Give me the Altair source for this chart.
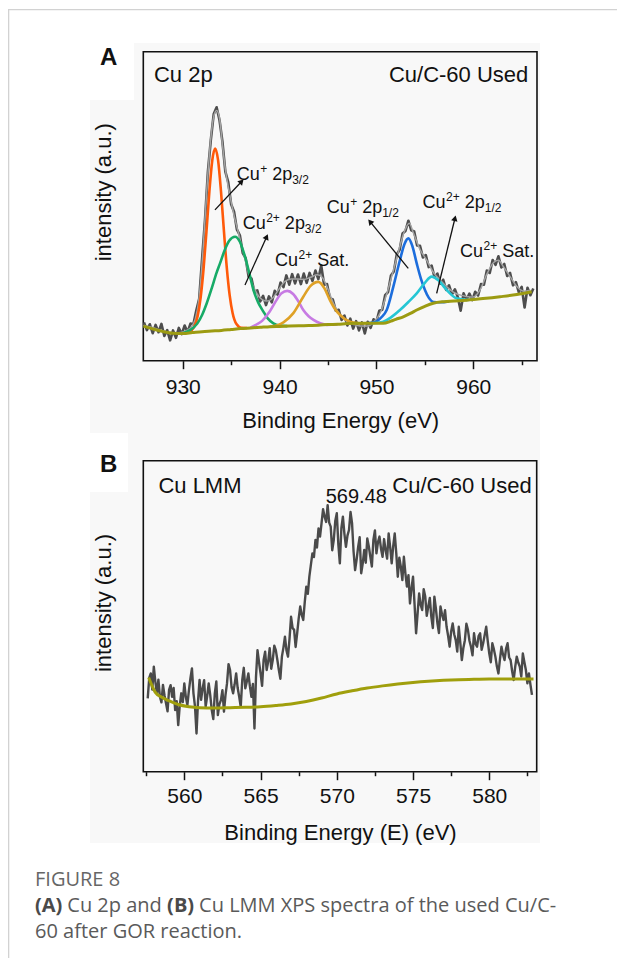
import altair as alt
import pandas as pd

FONT = "Liberation Sans"
CAPFONT = "Open Sans"

# ================= Panel A : Cu 2p =================
A_DOMAIN = [925.93, 966.58]
A_START, A_STEP = 926.0, 0.3          # sampling grid of the measured spectrum
a_spectrum = [
    12.4, 9.9, 11.8, 8.9, 11.6, 9.2, 11.9, 8.0, 9.9, 6.6,
    9.8, 7.4, 10.6, 8.6, 11.4, 9.2, 12.0, 11.8, 16.2, 20.0,
    33.0, 45.5, 61.2, 71.4, 79.8, 82.0, 77.8, 70.9, 61.2, 57.8,
    50.6, 48.2, 42.4, 40.6, 34.8, 33.2, 27.2, 26.6, 22.2, 22.8,
    19.2, 21.0, 18.0, 20.8, 18.9, 22.6, 21.4, 25.3, 23.8, 27.6,
    24.6, 28.0, 25.0, 27.9, 24.8, 28.2, 25.2, 28.4, 25.8, 29.2,
    26.4, 30.8, 24.6, 24.8, 20.2, 19.8, 16.2, 16.5, 13.2, 14.6,
    11.4, 13.6, 10.4, 12.8, 9.8, 12.4, 8.8, 12.6, 10.6, 13.4,
    12.6, 16.2, 16.5, 21.2, 22.2, 27.6, 28.9, 34.4, 35.9, 41.2,
    42.0, 45.3, 42.2, 41.8, 37.3, 37.2, 33.4, 34.2, 30.3, 30.8,
    27.0, 28.2, 24.9, 26.2, 22.9, 24.4, 21.5, 23.1, 20.6, 16.2,
    21.8, 19.7, 21.7, 19.6, 22.3, 21.1, 24.8, 24.6, 29.2, 28.4,
    32.6, 31.0, 33.8, 30.2, 31.3, 27.4, 28.4, 24.4, 25.4, 22.2,
    23.9, 17.2, 23.6, 21.2, 23.4,
]
a_energy = [round(A_START + A_STEP * i, 2) for i in range(len(a_spectrum))]

a_env_E = [925.94, 926.8, 927.6, 928.5, 929.3, 930.1, 930.8, 931.3, 931.7, 932.1,
           932.5, 932.9, 933.2, 933.5, 933.8, 934.1, 934.4, 934.9, 935.3, 935.7,
           936.1, 936.5, 936.9, 937.3, 937.7, 938.2, 938.7, 939.3, 939.9, 940.5,
           941.2, 941.9, 942.5, 943.2, 943.9, 944.4, 944.9, 945.5, 946.2, 946.9,
           947.6, 948.3, 949.0, 949.7, 950.4, 951.1, 951.8, 952.4, 952.9, 953.4,
           953.8, 954.5, 955.2, 955.9, 956.6, 957.3, 957.9, 958.6, 959.3, 960.0,
           960.7, 961.4, 962.1, 962.6, 963.1, 963.8, 964.5, 965.2, 965.9]
a_env_I = [11.5, 10.8, 10.0, 9.2, 9.0, 9.4, 10.6, 13.5, 20.5, 36.0,
           56.0, 72.0, 79.0, 81.0, 78.5, 70.0, 62.0, 53.0, 47.0, 42.0,
           37.0, 32.0, 27.0, 24.0, 21.5, 19.8, 19.3, 20.3, 23.0, 25.5,
           26.4, 26.4, 26.3, 27.0, 27.8, 27.0, 23.9, 19.0, 15.0, 12.8,
           11.8, 11.2, 11.2, 12.4, 15.5, 22.0, 29.8, 36.8, 42.0, 44.5,
           41.5, 36.0, 32.5, 28.5, 26.0, 23.8, 22.3, 21.3, 20.8, 20.6,
           22.9, 28.0, 31.8, 32.5, 30.5, 27.2, 24.0, 22.5, 22.8]

a_base_E = [925.94, 927, 928, 929, 930, 931, 932, 933, 934, 935, 936, 937, 938, 939,
            940, 941, 942, 943, 944, 945, 946, 947, 948, 949, 950, 950.7, 951.5, 952,
            952.77, 953.5, 954.16, 955, 955.87, 957, 958, 959.3, 961, 962.76, 964.5,
            966.03]
a_base_I = [11.2, 10.2, 9.4, 8.9, 8.8, 9.1, 9.4, 9.6, 9.8, 10.1, 10.4, 10.6, 10.8, 11.0,
            11.1, 11.2, 11.3, 11.4, 11.5, 11.7, 11.8, 12.0, 12.1, 12.1, 12.1, 12.1, 12.8, 13.4,
            14.2, 15.3, 16.4, 17.6, 18.6, 19.1, 19.3, 19.6, 20.1, 20.7, 21.4,
            22.3]

cu1_p32_E = [930.05, 930.65, 931.15, 931.55, 931.85, 932.15, 932.45, 932.75, 933.05, 933.35,
             933.65, 933.95, 934.25, 934.55, 934.85, 935.15, 935.55, 936.05, 936.65]
cu1_p32_I = [8.8, 9.25, 10.75, 14.55, 20.45, 29.65, 41.8, 54.65, 64.8, 68.65,
             64.9, 54.85, 42.15, 30.15, 21.15, 15.45, 11.85, 10.65, 10.6]

cu2_p32_E = [930.0, 930.76, 931.5, 932.0, 932.48, 933.0, 933.5, 933.85, 934.3, 934.8, 935.4,
             935.9, 936.4, 936.9, 937.3, 937.8, 938.33, 938.8, 939.36, 940.0, 940.8]
cu2_p32_I = [8.9, 9.9, 12.0, 14.8, 18.6, 23.5, 28.5, 31.5, 35.5, 38.8, 40.1,
             38.5, 34.0, 28.0, 22.9, 18.8, 15.9, 13.6, 12.1, 11.4, 11.2]

sat1_E = [937.0, 937.5, 938.2, 939.0, 939.6, 940.2, 940.8, 941.4, 942.0, 942.45, 943.0,
          943.5, 944.2, 944.9, 946.0]
sat1_I = [10.7, 11.5, 12.9, 16.0, 19.2, 21.8, 22.6, 21.6, 18.9, 16.4, 14.4,
          13.2, 12.1, 11.6, 11.7]

sat2_E = [939.0, 939.8, 940.4, 941.4, 942.45, 943.2, 944.0, 944.6, 945.2, 945.7, 946.24,
          947.27, 948.2, 949.0]
sat2_I = [11.0, 11.5, 12.4, 15.3, 20.7, 24.2, 25.5, 23.6, 19.6, 16.8, 14.8,
          12.6, 12.1, 12.1]

cu1_p12_E = [949.0, 949.8, 950.5, 951.06, 951.74, 952.43, 952.9, 953.3, 953.7, 954.16,
             954.6, 955.01, 955.4, 955.9, 956.56, 957.5]
cu1_p12_I = [12.1, 12.4, 14.0, 16.4, 23.9, 32.6, 37.8, 39.6, 37.2, 31.5,
             26.5, 22.9, 20.4, 19.0, 18.9, 19.2]

cu2_p12_E = [949.5, 950.7, 951.5, 952.43, 953.3, 954.16, 955.0, 955.7, 956.4, 957.25,
             958.28, 959.3, 960.0]
cu2_p12_I = [12.1, 12.6, 14.0, 16.4, 19.0, 21.8, 25.2, 27.2, 26.0, 22.9,
             20.2, 19.7, 19.8]

# peak labels: anchor (left of "Cu", text baseline)
lab_E = [935.57, 936.19, 939.53, 944.86, 954.77, 958.63]
lab_I = [58.5, 42.6, 30.7, 47.9, 49.5, 33.7]
lab_sup = ["+", "2+", "2+", "+", "2+", "2+"]
lab_main = ["2p", "2p", "Sat.", "2p", "2p", "Sat."]
lab_sub = ["3/2", "3/2", "", "1/2", "1/2", ""]

arr_E1 = [933.33, 936.43, 953.29, 956.22]
arr_I1 = [48.8, 24.5, 29.9, 21.8]
arr_E2 = [936.08, 938.67, 949.34, 958.11]
arr_I2 = [58.0, 40.1, 45.0, 46.1]
arr_ang = [43, 24, 320, 14]

# ================= Panel B : Cu LMM =================
B_DOMAIN = [557.31, 583.11]
B_START, B_STEP = 557.6, 0.1
b_spectrum = [
    23.6, 30.2, 31.6, 26.4, 33.8, 28.9, 25.2, 29.6, 24.1, 22.3, 27.9, 24.6, 22.0, 19.4, 26.3, 27.8, 24.1, 26.9, 19.8, 22.7,
    15.0, 21.2, 25.2, 22.4, 28.4, 24.0, 21.4, 26.1, 30.0, 33.2, 25.2, 21.0, 12.3, 22.8, 29.5, 23.1, 26.8, 29.4, 20.9, 24.3,
    28.4, 24.6, 19.8, 16.9, 25.2, 29.0, 18.2, 21.7, 23.0, 26.2, 19.3, 24.6, 28.4, 34.6, 32.7, 27.2, 25.2, 28.1, 31.6, 26.9,
    24.1, 20.9, 29.5, 33.4, 26.8, 29.0, 31.6, 27.5, 24.1, 28.2, 13.9, 30.4, 39.1, 35.2, 31.6, 27.6, 35.9, 38.6, 32.7, 35.4,
    39.7, 33.1, 35.9, 40.5, 39.1, 36.0, 32.7, 29.9, 37.0, 39.9, 43.4, 39.0, 37.0, 42.8, 49.8, 46.2, 45.6, 40.1, 44.5, 49.2,
    53.1, 50.4, 48.8, 54.6, 59.5, 57.2, 62.7, 66.5, 70.2, 69.0, 74.5, 72.1, 78.2, 75.6, 79.9, 84.4, 82.0, 80.3, 85.7, 80.1,
    78.8, 71.2, 74.5, 80.6, 83.1, 73.2, 67.0, 78.3, 82.0, 76.5, 72.3, 75.9, 77.7, 83.5, 79.9, 70.8, 64.8, 68.2, 72.3, 75.4,
    63.8, 66.9, 71.3, 67.2, 75.0, 72.4, 69.1, 66.0, 74.5, 77.6, 70.2, 73.8, 75.6, 71.7, 69.1, 74.8, 71.3, 68.5, 76.6, 72.2,
    67.0, 72.5, 76.6, 70.3, 62.7, 68.8, 65.9, 61.6, 69.1, 63.7, 59.5, 63.2, 54.1, 59.0, 62.7, 53.8, 44.5, 50.9, 57.3, 53.6,
    52.0, 58.7, 56.3, 50.1, 53.1, 55.9, 49.8, 46.2, 56.3, 52.4, 47.7, 44.6, 53.1, 50.6, 48.8, 51.9, 46.6, 43.7, 40.2, 45.1,
    47.7, 44.2, 42.3, 38.6, 46.6, 41.4, 35.9, 39.8, 42.3, 47.6, 45.6, 42.1, 40.2, 37.4, 44.5, 41.1, 40.2, 43.6, 44.5, 39.2,
    41.3, 44.0, 46.6, 42.0, 38.0, 35.2, 41.3, 39.4, 37.0, 33.8, 31.6, 36.1, 40.2, 37.7, 35.9, 39.6, 41.3, 36.8, 35.9, 32.3,
    29.5, 33.7, 37.0, 35.1, 33.8, 30.6, 38.0, 35.3, 32.7, 28.4, 31.6, 28.0, 24.7,
]
b_energy = [round(B_START + B_STEP * i, 2) for i in range(len(b_spectrum))]

b_base_E = [557.66, 557.85, 558.1, 558.5, 559.0, 559.6, 560.3, 561.0, 562.0, 563.0,
            564.0, 565.0, 566.0, 567.0, 568.0, 569.0, 570.0, 571.0, 572.0, 573.0,
            574.0, 575.0, 576.0, 577.0, 578.0, 579.0, 580.0, 581.0, 582.0, 582.9]
b_base_I = [30.3, 28.0, 25.5, 24.0, 22.8, 21.6, 20.9, 20.6, 20.5, 20.6,
            20.7, 20.9, 21.3, 21.8, 22.6, 23.7, 25.0, 26.0, 26.9, 27.6,
            28.2, 28.7, 29.1, 29.4, 29.6, 29.7, 29.8, 29.8, 29.8, 29.8]

b_peak_label = "569.48"
b_peak_E, b_peak_I = 571.28, 86.3

# ================= helpers =================
DUMMY = pd.DataFrame({"k": [0]})


def xy(E, I):
    return pd.DataFrame(list(zip(E, I)), columns=["E", "I"])


def deco_rect(x, x2, y, y2, fill):
    return alt.Chart(DUMMY).mark_rect(fill=fill).encode(
        x=alt.value(x), x2=alt.value(x2), y=alt.value(y), y2=alt.value(y2))


def deco_text(txt, x, y, size, weight="normal", color="#111", font=FONT, align="left"):
    return alt.Chart(DUMMY).mark_text(
        text=txt, align=align, baseline="alphabetic", fontSize=size, font=font,
        fontWeight=weight, color=color).encode(x=alt.value(x), y=alt.value(y))


def x_axis(offset, values, test, pad, title, tx, ty):
    return alt.Axis(
        orient="bottom", offset=offset, values=values, zindex=2,
        labelExpr=f"{test} ? datum.label : ''",
        tickSize={"condition": {"test": test, "value": 8}, "value": 4},
        tickColor="#111", tickWidth=1.5, domain=False, grid=False,
        labelFont=FONT, labelFontSize=21, labelColor="#111", labelPadding=pad,
        labelFlush=False, labelOverlap=False,
        title=title, titleFont=FONT, titleFontSize=22, titleFontWeight="normal",
        titleColor="#111", titleX=tx, titleY=ty, titleAlign="center",
        titleBaseline="alphabetic")


def y_axis(ty):
    return alt.Axis(
        orient="left", labels=False, ticks=False, domain=False, grid=False, zindex=2,
        title="intensity (a.u.)", titleFont=FONT, titleFontSize=22,
        titleFontWeight="normal", titleColor="#111", titleX=103, titleY=ty,
        titleAngle=270, titleAlign="center", titleBaseline="middle")


def panel_tools(scx, scy):
    X = lambda f="E": alt.X(f"{f}:Q", scale=scx)
    Y = lambda f="I": alt.Y(f"{f}:Q", scale=scy)

    def line(df, color, width, interp="linear"):
        return alt.Chart(df).mark_line(color=color, strokeWidth=width, interpolate=interp,
                                       strokeJoin="round").encode(x=X(), y=Y())

    def text(df, size, dx=0, dy=0, align="left", field="t"):
        return alt.Chart(df).mark_text(align=align, baseline="alphabetic", fontSize=size,
                                       font=FONT, color="#111", dx=dx, dy=dy).encode(
            x=X(), y=Y(), text=f"{field}:N")

    return X, Y, line, text


def frame(domain, scx, scy, xaxis, yaxis):
    return alt.Chart(pd.DataFrame({"E": [domain[0]], "E2": [domain[1]], "I": [0], "I2": [100]})
                     ).mark_rect(fillOpacity=0, stroke="#111", strokeWidth=1.6).encode(
        x=alt.X("E:Q", scale=scx, axis=xaxis), x2="E2:Q",
        y=alt.Y("I:Q", scale=scy, axis=yaxis), y2="I2:Q")


# ================= Panel A chart =================
xA = alt.Scale(domain=A_DOMAIN, range=[143.3, 537.0], nice=False, zero=False)
yA = alt.Scale(domain=[0, 100], range=[360.7, 51.7], nice=False, zero=False)
XA, YA, lineA, textA = panel_tools(xA, yA)
frameA = frame(A_DOMAIN, xA, yA,
               x_axis(-597.3, [930, 935, 940, 945, 950, 955, 960, 965], "datum.value % 10 === 0",
                      7.7, "Binding Energy (eV)", 340.2, 66.3),
               y_axis(191.7))

labs = pd.DataFrame({"E": lab_E, "I": lab_I, "sup": lab_sup, "main": lab_main, "sub": lab_sub})
labs["cu"] = "Cu"
one = labs[labs["sup"] == "+"]
two = labs[labs["sup"] == "2+"]

arrows = pd.DataFrame({"E": arr_E1, "I": arr_I1, "E2": arr_E2, "I2": arr_I2, "ang": arr_ang})

panelA = alt.layer(
    frameA,
    lineA(xy(a_energy, a_spectrum), "#4d4d4d", 2.6),
    lineA(xy(a_env_E, a_env_I), "#a3a3a3", 1.5, "monotone"),
    lineA(xy(cu1_p32_E, cu1_p32_I), "#ff5a0a", 2.6, "monotone"),
    lineA(xy(cu2_p32_E, cu2_p32_I), "#17ab67", 2.6, "monotone"),
    lineA(xy(sat1_E, sat1_I), "#c77be3", 2.6, "monotone"),
    lineA(xy(sat2_E, sat2_I), "#dfa126", 2.6, "monotone"),
    lineA(xy(cu1_p12_E, cu1_p12_I), "#1c6ddc", 2.6, "monotone"),
    lineA(xy(cu2_p12_E, cu2_p12_I), "#25c6d4", 2.6, "monotone"),
    lineA(xy(a_base_E, a_base_I), "#9c9b12", 3.0, "monotone"),
    alt.Chart(arrows).mark_rule(color="#111", strokeWidth=1.3).encode(
        x=XA(), y=YA(), x2="E2:Q", y2="I2:Q"),
    alt.Chart(arrows).mark_point(shape="triangle-up", filled=True, size=42, color="#111",
                                 opacity=1).encode(
        x=XA("E2"), y=YA("I2"), angle=alt.Angle("ang:Q", scale=None)),
    textA(labs, 18, field="cu"),
    textA(labs, 12, dx=23.5, dy=-7, field="sup"),
    textA(one, 18, dx=35.5, field="main"),
    textA(two, 18, dx=42.2, field="main"),
    textA(one, 12, dx=55.5, dy=4, field="sub"),
    textA(two[two["sub"] != ""], 12, dx=62.2, dy=4, field="sub"),
    textA(pd.DataFrame({"E": [927.03], "I": [90.3], "t": ["Cu 2p"]}), 22),
    textA(pd.DataFrame({"E": [965.68], "I": [90.3], "t": ["Cu/C-60 Used"]}), 22, align="right"),
)

# ================= Panel B chart =================
xB = alt.Scale(domain=B_DOMAIN, range=[143.3, 536.7], nice=False, zero=False)
yB = alt.Scale(domain=[0, 100], range=[771.7, 460.7], nice=False, zero=False)
XB, YB, lineB, textB = panel_tools(xB, yB)
frameB = frame(B_DOMAIN, xB, yB,
               x_axis(-186.3, [557.5, 560, 562.5, 565, 567.5, 570, 572.5, 575, 577.5, 580, 582.5],
                      "datum.value % 5 === 0", 5.4, "Binding Energy (E) (eV)", 340.0, 67.3),
               y_axis(602.5))

panelB = alt.layer(
    frameB,
    lineB(xy(b_energy, b_spectrum), "#4a4a4a", 2.4),
    lineB(xy(b_base_E, b_base_I), "#a09f0c", 3.0, "monotone"),
    textB(pd.DataFrame({"E": [b_peak_E], "I": [b_peak_I], "t": [b_peak_label]}), 20, align="center"),
    textB(pd.DataFrame({"E": [558.3], "I": [89.5], "t": ["Cu LMM"]}), 22),
    textB(pd.DataFrame({"E": [582.78], "I": [89.5], "t": ["Cu/C-60 Used"]}), 22, align="right"),
)

# ================= decorations & caption =================
deco = alt.layer(
    deco_rect(90, 540, 43, 843, "#f8f8f8"),
    deco_rect(90, 134, 43, 100, "#ffffff"),
    deco_rect(90, 128, 433, 492, "#ffffff"),
    deco_rect(8, 617, 9, 10.3, "#d2d2d2"),
    deco_rect(8, 9.3, 9, 958, "#d2d2d2"),
)

labels = alt.layer(
    deco_text("A", 100, 65, 24, "bold"),
    deco_text("B", 100, 472, 24, "bold"),
)

caption = alt.layer(
    deco_text("FIGURE 8", 35, 886, 20, "normal", "#666666", CAPFONT),
    deco_text("(A)", 35, 912, 20, "bold", "#4a4a4a", CAPFONT),
    deco_text("Cu 2p and", 67.3, 912, 20, "normal", "#5a5a5a", CAPFONT),
    deco_text("(B)", 167.1, 912, 20, "bold", "#4a4a4a", CAPFONT),
    deco_text("Cu LMM XPS spectra of the used Cu/C-", 199.1, 912, 20, "normal", "#5a5a5a", CAPFONT),
    deco_text("60 after GOR reaction.", 35, 938, 20, "normal", "#5a5a5a", CAPFONT),
)

chart = alt.layer(deco, panelA, panelB, labels, caption).resolve_scale(
    x="independent", y="independent"
).properties(
    width=617, height=958, padding=0, background="white",
    autosize=alt.AutoSizeParams(type="none"),
).configure_view(stroke=None)

chart.save("out.html", embed_options={"renderer": "svg", "actions": False})
